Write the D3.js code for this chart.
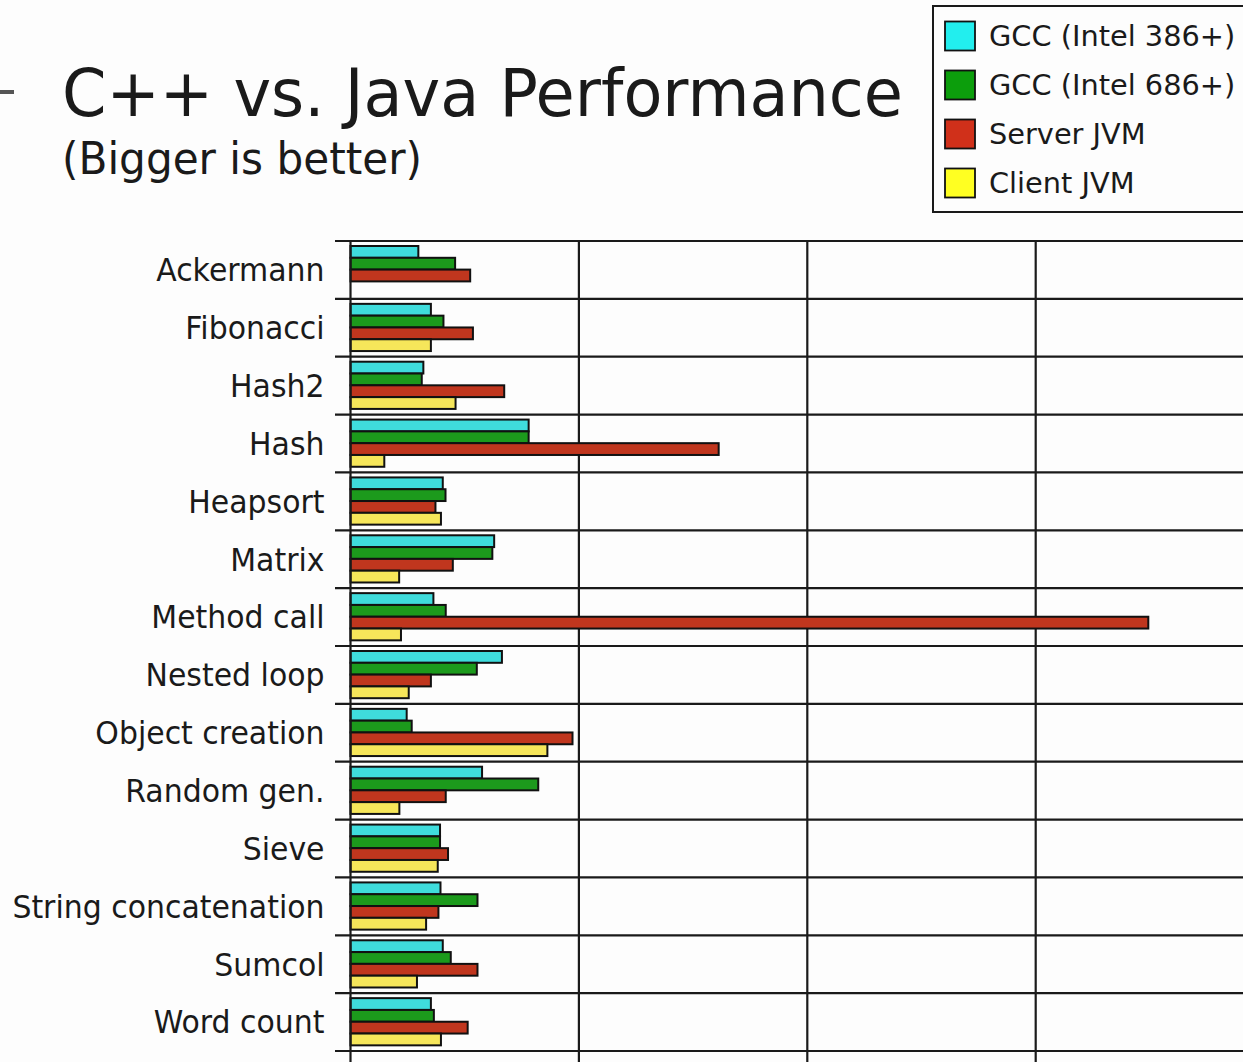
<!DOCTYPE html>
<html><head><meta charset="utf-8">
<script src="https://cdn.jsdelivr.net/npm/d3@7"></script>
<style>
html,body{margin:0;padding:0;background:#fdfdfd;overflow:hidden;}
text{font-family:"DejaVu Sans",sans-serif;fill:#1a1a1a;}
</style></head>
<body>
<svg id="c" width="1243" height="1062"></svg>
<script>
const categories = ["Ackermann","Fibonacci","Hash2","Hash","Heapsort","Matrix","Method call","Nested loop","Object creation","Random gen.","Sieve","String concatenation","Sumcol","Word count"];
const seriesNames = ["GCC (Intel 386+)","GCC (Intel 686+)","Server JVM","Client JVM"];
const gcc386 = [0.297,0.352,0.319,0.780,0.404,0.629,0.363,0.663,0.246,0.576,0.392,0.394,0.404,0.352];
const gcc686 = [0.458,0.407,0.312,0.780,0.416,0.621,0.417,0.553,0.268,0.822,0.392,0.556,0.439,0.365];
const serverJVM = [0.524,0.536,0.673,1.612,0.372,0.448,3.493,0.352,0.972,0.417,0.427,0.385,0.556,0.513];
const clientJVM = [null,0.352,0.460,0.148,0.396,0.213,0.221,0.255,0.862,0.214,0.382,0.331,0.291,0.396];
const gridTicks = [1,2,3,4];
const barColors = ["#3fdcdc","#1c9a1c","#c0361e","#f6e65a"];
const legendColors = ["#22eeee","#0c9e0c","#d0301a","#ffff22"];

const series = [gcc386,gcc686,serverJVM,clientJVM];
const svg = d3.select("#c");
const W = 1243, H = 1062;

svg.append("rect").attr("width",W).attr("height",H).attr("fill","#fdfdfd");

const x = d3.scaleLinear().domain([0,4]).range([350.5, 350.5 + 4*228.4]);
const y = d3.scaleBand().domain(categories).range([241, 1051]).paddingInner(0).paddingOuter(0);
const sub = d3.scaleBand().domain(d3.range(4)).range([5, 52.2]).padding(0);

// vertical grid lines
svg.append("g").selectAll("line").data(gridTicks).join("line")
  .attr("x1",d=>x(d)).attr("x2",d=>x(d)).attr("y1",241).attr("y2",H)
  .attr("stroke","#1a1a1a").attr("stroke-width",2.2);

// horizontal separators
const seps = categories.map(c=>y(c)).concat([y.range()[1]]);
svg.append("g").selectAll("line").data(seps).join("line")
  .attr("x1",335).attr("x2",W).attr("y1",d=>d).attr("y2",d=>d)
  .attr("stroke","#1a1a1a").attr("stroke-width",2.2);

// bars
const groups = svg.append("g").selectAll("g").data(categories).join("g")
  .attr("transform",c=>`translate(0,${y(c)})`);
groups.selectAll("rect").data((c,i)=>series.map((s,k)=>({k,v:s[i]})).filter(d=>d.v!=null)).join("rect")
  .attr("x",x(0)).attr("y",d=>sub(d.k)).attr("height",sub.bandwidth())
  .attr("width",d=>x(d.v)-x(0))
  .attr("fill",d=>barColors[d.k]).attr("stroke","#111").attr("stroke-width",2);

// left axis line
svg.append("line").attr("x1",x(0)).attr("x2",x(0)).attr("y1",241).attr("y2",H)
  .attr("stroke","#1a1a1a").attr("stroke-width",2.2);

// category labels via axis
const ax = svg.append("g").attr("transform",`translate(${x(0)},0)`)
  .call(d3.axisLeft(y).tickSize(0).tickPadding(26));
ax.select(".domain").remove();
ax.selectAll("text").attr("font-size",31.5).attr("fill","#1a1a1a")
  .attr("font-family","DejaVu Sans").attr("dy","0.36em")
  .each(function(){ const l=this.getComputedTextLength(); d3.select(this).attr("textLength",l*0.95).attr("lengthAdjust","spacingAndGlyphs"); });

// title
function fit(t,w){ t.attr("textLength",w).attr("lengthAdjust","spacingAndGlyphs"); }
const t1 = svg.append("text").attr("x",62).attr("y",116).attr("font-size",65).text("C++ vs. Java Performance");
fit(t1,841);
const t2 = svg.append("text").attr("x",62).attr("y",174).attr("font-size",44).text("(Bigger is better)");
fit(t2,360);
svg.append("line").attr("x1",0).attr("x2",14).attr("y1",92).attr("y2",92).attr("stroke","#555").attr("stroke-width",4);

// legend
const lg = svg.append("g");
lg.append("rect").attr("x",933).attr("y",6).attr("width",330).attr("height",206)
  .attr("fill","#fdfdfd").attr("stroke","#1a1a1a").attr("stroke-width",2);
const items = lg.selectAll("g").data(seriesNames).join("g")
  .attr("transform",(d,i)=>`translate(0,${36 + i*49})`);
items.append("rect").attr("x",945).attr("y",-14.5).attr("width",30).attr("height",29)
  .attr("fill",(d,i)=>legendColors[i]).attr("stroke","#111").attr("stroke-width",1.8);
items.append("text").attr("x",989).attr("y",0).attr("dy","0.36em").attr("font-size",28.8)
  .text(d=>d);
</script>
</body></html>
